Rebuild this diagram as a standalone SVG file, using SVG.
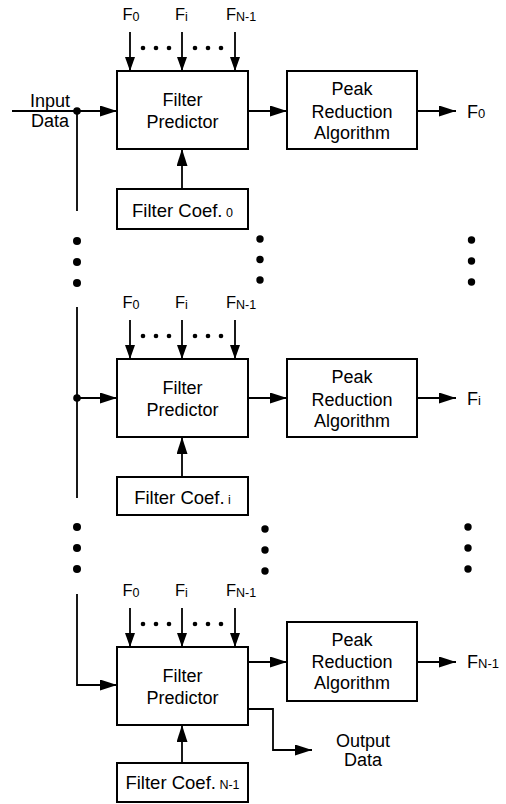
<svg xmlns="http://www.w3.org/2000/svg" width="506" height="804" viewBox="0 0 506 804">
<style>
text{font-family:"Liberation Sans",Arial,Helvetica,sans-serif;fill:#000}
.box{fill:#fff;stroke:#000;stroke-width:2}
.t{font-size:18px;text-anchor:middle}
.c{font-size:18.5px;text-anchor:middle}
.f{font-size:16.5px}
.s{font-size:12.5px}
.so{font-size:13px}
.ln{fill:none;stroke:#000;stroke-width:1.8}
.a{marker-end:url(#arr)}
.as{marker-end:url(#arrs)}
.dot{fill:#000}
</style>
<defs>
<marker id="arr" viewBox="0 0 17 11" refX="17" refY="5.5" markerWidth="17" markerHeight="11" markerUnits="userSpaceOnUse" orient="auto"><path d="M0,0 L17,5.5 L0,11 Z" fill="#000"/></marker>
<marker id="arrs" viewBox="0 0 14 10" refX="14" refY="5" markerWidth="14" markerHeight="10" markerUnits="userSpaceOnUse" orient="auto"><path d="M0,0 L14,5 L0,10 Z" fill="#000"/></marker>
</defs>

<g id="connectors">
<!-- block 1 -->
<line class="ln as" x1="130" y1="32" x2="130" y2="71"/>
<line class="ln as" x1="182" y1="32" x2="182" y2="71"/>
<line class="ln as" x1="235" y1="32" x2="235" y2="71"/>
<line class="ln a" x1="12" y1="111" x2="117" y2="111"/>
<line class="ln" x1="77" y1="111" x2="77" y2="211"/>
<line class="ln a" x1="248" y1="111" x2="287" y2="111"/>
<line class="ln a" x1="417" y1="111" x2="456" y2="111"/>
<line class="ln a" x1="182" y1="189" x2="182" y2="149"/>
<!-- block 2 -->
<line class="ln as" x1="130" y1="320" x2="130" y2="359"/>
<line class="ln as" x1="182" y1="320" x2="182" y2="359"/>
<line class="ln as" x1="235" y1="320" x2="235" y2="359"/>
<line class="ln" x1="77" y1="307" x2="77" y2="498"/>
<line class="ln a" x1="77" y1="398" x2="117" y2="398"/>
<line class="ln a" x1="248" y1="398" x2="287" y2="398"/>
<line class="ln a" x1="417" y1="398" x2="456" y2="398"/>
<line class="ln a" x1="182" y1="477" x2="182" y2="437"/>
<!-- block 3 -->
<line class="ln as" x1="130" y1="608" x2="130" y2="647"/>
<line class="ln as" x1="182" y1="608" x2="182" y2="647"/>
<line class="ln as" x1="235" y1="608" x2="235" y2="647"/>
<path class="ln a" d="M77,594 V685 H117"/>
<line class="ln a" x1="248" y1="662" x2="287" y2="662"/>
<line class="ln a" x1="417" y1="662" x2="456" y2="662"/>
<path class="ln a" d="M248,709 H273 V750 H312"/>
<line class="ln a" x1="182" y1="763" x2="182" y2="725"/>
<!-- junction dots -->
<circle class="dot" cx="77" cy="111" r="3.8"/>
<circle class="dot" cx="77" cy="398" r="3.8"/>
</g>

<g id="ellipsis">
<circle class="dot" cx="143" cy="48" r="2.3"/><circle class="dot" cx="156" cy="48" r="2.3"/><circle class="dot" cx="169" cy="48" r="2.3"/>
<circle class="dot" cx="195" cy="48" r="2.3"/><circle class="dot" cx="208" cy="48" r="2.3"/><circle class="dot" cx="221" cy="48" r="2.3"/>
<circle class="dot" cx="143" cy="336" r="2.3"/><circle class="dot" cx="156" cy="336" r="2.3"/><circle class="dot" cx="169" cy="336" r="2.3"/>
<circle class="dot" cx="195" cy="336" r="2.3"/><circle class="dot" cx="208" cy="336" r="2.3"/><circle class="dot" cx="221" cy="336" r="2.3"/>
<circle class="dot" cx="143" cy="624" r="2.3"/><circle class="dot" cx="156" cy="624" r="2.3"/><circle class="dot" cx="169" cy="624" r="2.3"/>
<circle class="dot" cx="195" cy="624" r="2.3"/><circle class="dot" cx="208" cy="624" r="2.3"/><circle class="dot" cx="221" cy="624" r="2.3"/>
<circle class="dot" cx="77" cy="241" r="4"/><circle class="dot" cx="77" cy="262" r="4"/><circle class="dot" cx="77" cy="283" r="4"/>
<circle class="dot" cx="77" cy="527" r="4"/><circle class="dot" cx="77" cy="548" r="4"/><circle class="dot" cx="77" cy="569" r="4"/>
<circle class="dot" cx="260" cy="239" r="3.7"/><circle class="dot" cx="260" cy="259.5" r="3.7"/><circle class="dot" cx="260" cy="280" r="3.7"/>
<circle class="dot" cx="265" cy="529" r="3.7"/><circle class="dot" cx="265" cy="550" r="3.7"/><circle class="dot" cx="265" cy="571" r="3.7"/>
<circle class="dot" cx="471.5" cy="240" r="3.7"/><circle class="dot" cx="471.5" cy="261" r="3.7"/><circle class="dot" cx="471.5" cy="282" r="3.7"/>
<circle class="dot" cx="468" cy="527" r="3.7"/><circle class="dot" cx="468" cy="548" r="3.7"/><circle class="dot" cx="468" cy="569" r="3.7"/>
</g>

<g id="labels">
<text class="t" x="50" y="106.5">Input</text>
<text class="t" x="50" y="127">Data</text>
<text class="f" x="122.5" y="20">F<tspan class="s" dy="0.5">0</tspan></text>
<text class="f" x="175" y="20">F<tspan class="s" dy="0.5">i</tspan></text>
<text class="f" x="226" y="20">F<tspan class="s" dy="0.5">N-1</tspan></text>
<text class="f" x="122.5" y="308">F<tspan class="s" dy="0.5">0</tspan></text>
<text class="f" x="175" y="308">F<tspan class="s" dy="0.5">i</tspan></text>
<text class="f" x="226" y="308">F<tspan class="s" dy="0.5">N-1</tspan></text>
<text class="f" x="122.5" y="596">F<tspan class="s" dy="0.5">0</tspan></text>
<text class="f" x="175" y="596">F<tspan class="s" dy="0.5">i</tspan></text>
<text class="f" x="226" y="596">F<tspan class="s" dy="0.5">N-1</tspan></text>
<text x="467" y="118" style="font-size:18px">F<tspan class="so">0</tspan></text>
<text x="467" y="405" style="font-size:18px">F<tspan class="so">i</tspan></text>
<text x="467" y="668" style="font-size:18px">F<tspan class="so">N-1</tspan></text>
<text class="t" x="363" y="747">Output</text>
<text class="t" x="363" y="766">Data</text>
</g>

<g id="fp0"><rect class="box" x="117" y="71" width="131" height="78"/><text class="t" x="182.5" y="106">Filter</text><text class="t" x="182.5" y="128">Predictor</text></g>
<g id="pra0"><rect class="box" x="287" y="71" width="130" height="78"/><text class="t" x="352" y="95">Peak</text><text class="t" x="352" y="118">Reduction</text><text class="t" x="352" y="139">Algorithm</text></g>
<g id="coef0"><rect class="box" x="117" y="189" width="131" height="40"/><text class="c" x="182.5" y="217">Filter Coef.<tspan class="s"> 0</tspan></text></g>

<g id="fpi"><rect class="box" x="117" y="359" width="131" height="78"/><text class="t" x="182.5" y="394">Filter</text><text class="t" x="182.5" y="416">Predictor</text></g>
<g id="prai"><rect class="box" x="287" y="359" width="130" height="78"/><text class="t" x="352" y="383">Peak</text><text class="t" x="352" y="406">Reduction</text><text class="t" x="352" y="427">Algorithm</text></g>
<g id="coefi"><rect class="box" x="117" y="477" width="131" height="38"/><text class="c" x="182.5" y="503.5">Filter Coef.<tspan class="s"> i</tspan></text></g>

<g id="fpn"><rect class="box" x="117" y="647" width="131" height="78"/><text class="t" x="182.5" y="682">Filter</text><text class="t" x="182.5" y="704">Predictor</text></g>
<g id="pran"><rect class="box" x="287" y="622" width="130" height="79"/><text class="t" x="352" y="645.5">Peak</text><text class="t" x="352" y="668">Reduction</text><text class="t" x="352" y="689">Algorithm</text></g>
<g id="coefn"><rect class="box" x="117" y="763" width="131" height="39"/><text class="c" x="182.5" y="788.5">Filter Coef.<tspan class="s"> N-1</tspan></text></g>
</svg>
